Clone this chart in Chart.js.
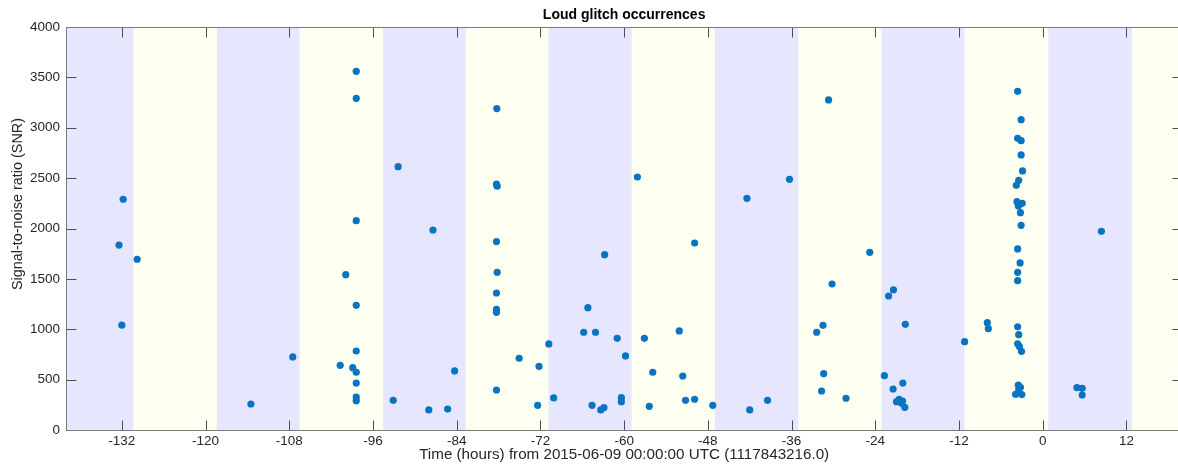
<!DOCTYPE html>
<html>
<head>
<meta charset="utf-8">
<script src="https://cdn.jsdelivr.net/npm/chart.js@4.4.1/dist/chart.umd.min.js"></script>
<style>
  html, body { margin: 0; padding: 0; background: #ffffff; overflow: hidden; }
  #wrap { width: 1190px; height: 465px; }
</style>
</head>
<body>
<div id="wrap"><canvas id="c" width="1190" height="465"></canvas></div>
<script>
// Glitch times (hours from 2015-06-09 00:00:00 UTC) and their SNR
const hours = [
  -131.8, -132.4, -129.8, -132.0, -113.5, -107.5,
  -98.4, -98.4, -98.4, -99.9, -98.4, -98.4, -100.7, -98.9, -98.4, -98.4, -98.4, -98.4,
  -93.1, -92.4, -88.0, -87.4, -85.3, -84.3,
  -78.25, -78.3, -78.2, -78.3, -78.2, -78.3, -78.3, -78.3, -78.3,
  -75.05, -72.2, -72.4, -70.8, -70.1,
  -65.8, -65.2, -64.6, -64.1, -63.35, -62.9, -62.8, -61.0, -60.4, -60.4, -59.8,
  -58.1, -57.1, -56.4, -55.9, -52.1, -51.6, -51.2, -49.9, -49.9, -47.3,
  -42.4, -42.0, -39.45, -36.3,
  -32.4, -31.5, -31.4, -31.7, -30.7, -30.2, -28.2,
  -24.8, -22.7, -22.1, -21.4, -21.45, -20.06, -19.7, -20.96, -20.58, -20.24, -19.77, -20.1,
  -11.2, -7.95, -7.8,
  -3.6, -3.1, -3.6, -3.1, -3.1, -2.9, -3.45, -3.8, -3.7, -3.5, -2.95, -3.2, -3.1,
  -3.6, -3.25, -3.6, -3.6, -3.6, -3.45, -3.6, -3.35, -3.05,
  -3.5, -3.2, -3.9, -3.0, -3.45,
  4.9, 5.65, 5.65, 8.4
];
const snr = [
  2290, 1835, 1695, 1040, 258, 725,
  3560, 3292, 2078, 1542, 1237, 784, 642, 619, 573, 466, 327, 291,
  295, 2614, 199, 1985, 208, 586,
  3190, 2440, 2420, 1870, 1565, 1360, 1198, 1168, 397,
  712, 632, 245, 854, 318,
  970, 1214, 245, 970, 199, 222, 1740, 910, 321, 281, 735,
  2511, 910, 235, 573, 983, 536, 295, 1856, 305, 245,
  2300, 199, 295, 2488,
  970, 1039, 559, 387, 3276, 1449, 315,
  1764, 539, 1330, 1390, 407, 466, 1049, 281, 305, 265, 225, 288,
  877, 1065, 1006,
  3362, 3080, 2895, 2872, 2730, 2571, 2478, 2429, 2266, 2223, 2250, 2157, 2032,
  1797, 1658, 1565, 1482, 1025, 946, 856, 830, 781,
  445, 424, 355, 352, 397,
  420, 414, 347, 1972
];

const xTicks = [-132, -120, -108, -96, -84, -72, -60, -48, -36, -24, -12, 0, 12];
const yTicks = [0, 500, 1000, 1500, 2000, 2500, 3000, 3500, 4000];

// Alternating night/day shading, edges in hours
const bandEdges = [-140, -130.3, -118.4, -106.5, -94.55, -82.7, -70.85, -58.9, -47.0, -35.0, -23.1, -11.2, 0.8, 12.8, 20];
const bandColors = ['#e6e6ff', '#fdfff0'];

const titleText = 'Loud glitch occurrences';
const xTitleText = 'Time (hours) from 2015-06-09 00:00:00 UTC (1117843216.0)';
const yTitleText = 'Signal-to-noise ratio (SNR)';

const FONT = '"Liberation Sans", Arial, Helvetica, sans-serif';
const TEXT = '#262626';

const bandsPlugin = {
  id: 'bands',
  beforeDatasetsDraw(chart) {
    const { ctx, chartArea: a, scales: { x } } = chart;
    ctx.save();
    ctx.beginPath();
    ctx.rect(a.left, a.top, a.right - a.left, a.bottom - a.top);
    ctx.clip();
    for (let i = 0; i < bandEdges.length - 1; i++) {
      const x0 = x.getPixelForValue(bandEdges[i]);
      const x1 = x.getPixelForValue(bandEdges[i + 1]);
      ctx.fillStyle = bandColors[i % 2];
      ctx.fillRect(x0, a.top, x1 - x0, a.bottom - a.top);
    }
    ctx.restore();
  }
};

// Axis box with inward-pointing tick marks on all four sides
const framePlugin = {
  id: 'frame',
  afterDatasetsDraw(chart) {
    const { ctx, chartArea: a, scales: { x, y } } = chart;
    const L = Math.round(a.left) + 0.5, R = Math.round(a.right) + 0.5;
    const T = Math.round(a.top) + 0.5, B = Math.round(a.bottom) + 0.5;
    const len = 10;
    ctx.save();
    ctx.lineWidth = 1;
    ctx.strokeStyle = '#4f4f4f';
    ctx.beginPath();
    xTicks.forEach(v => {
      const px = Math.round(x.getPixelForValue(v)) + 0.5;
      ctx.moveTo(px, B); ctx.lineTo(px, B - len);
      ctx.moveTo(px, T); ctx.lineTo(px, T + len);
    });
    yTicks.forEach(v => {
      const py = Math.round(y.getPixelForValue(v)) + 0.5;
      ctx.moveTo(L, py); ctx.lineTo(L + len, py);
      ctx.moveTo(R, py); ctx.lineTo(R - len, py);
    });
    ctx.stroke();
    ctx.strokeStyle = '#7a7a7a';
    ctx.strokeRect(L, T, R - L, B - T);
    ctx.restore();
  },
  // y-axis label, set a little above the axis midpoint
  afterDraw(chart) {
    const { ctx } = chart;
    ctx.save();
    ctx.fillStyle = TEXT;
    ctx.font = '14.4px ' + FONT;
    ctx.textAlign = 'center';
    ctx.textBaseline = 'middle';
    ctx.translate(18, 204);
    ctx.rotate(-Math.PI / 2);
    ctx.fillText(yTitleText, 0, 0);
    ctx.restore();
  }
};

new Chart(document.getElementById('c'), {
  type: 'scatter',
  data: {
    datasets: [{
      data: hours.map((h, i) => ({ x: h, y: snr[i] })),
      backgroundColor: '#0b74c2',
      borderWidth: 0,
      pointRadius: 3.6,
      pointHoverRadius: 3.6
    }]
  },
  options: {
    responsive: false,
    animation: false,
    devicePixelRatio: 1,
    layout: { padding: { left: 0, right: 7.7, top: 0, bottom: 0 } },
    plugins: {
      legend: { display: false },
      tooltip: { enabled: false },
      title: {
        display: true,
        fullSize: false,
        text: titleText,
        color: '#000000',
        font: { family: FONT, size: 14, weight: 'bold', lineHeight: 1.2 },
        padding: { top: 7, bottom: 3.2 }
      }
    },
    scales: {
      x: {
        type: 'linear',
        min: -140,
        max: 20,
        afterBuildTicks: s => { s.ticks = xTicks.map(v => ({ value: v })); },
        afterFit: s => { s.height = 35; },
        grid: { display: false, drawTicks: false },
        border: { display: false },
        ticks: {
          color: TEXT,
          padding: 3,
          maxRotation: 0,
          autoSkip: false,
          font: { family: FONT, size: 13.5 },
          callback: v => String(v)
        },
        title: {
          display: true,
          text: xTitleText,
          color: TEXT,
          font: { family: FONT, size: 15.2, lineHeight: 1.2 },
          padding: { top: 0, bottom: 1 }
        }
      },
      y: {
        type: 'linear',
        min: 0,
        max: 4000,
        afterBuildTicks: s => { s.ticks = yTicks.map(v => ({ value: v })); },
        afterFit: s => { s.width = 66; },
        grid: { display: false, drawTicks: false },
        border: { display: false },
        ticks: {
          color: TEXT,
          padding: 6,
          autoSkip: false,
          font: { family: FONT, size: 13.5 },
          callback: v => String(v)
        },
        title: { display: false, text: yTitleText }
      }
    }
  },
  plugins: [bandsPlugin, framePlugin]
});
</script>
</body>
</html>
